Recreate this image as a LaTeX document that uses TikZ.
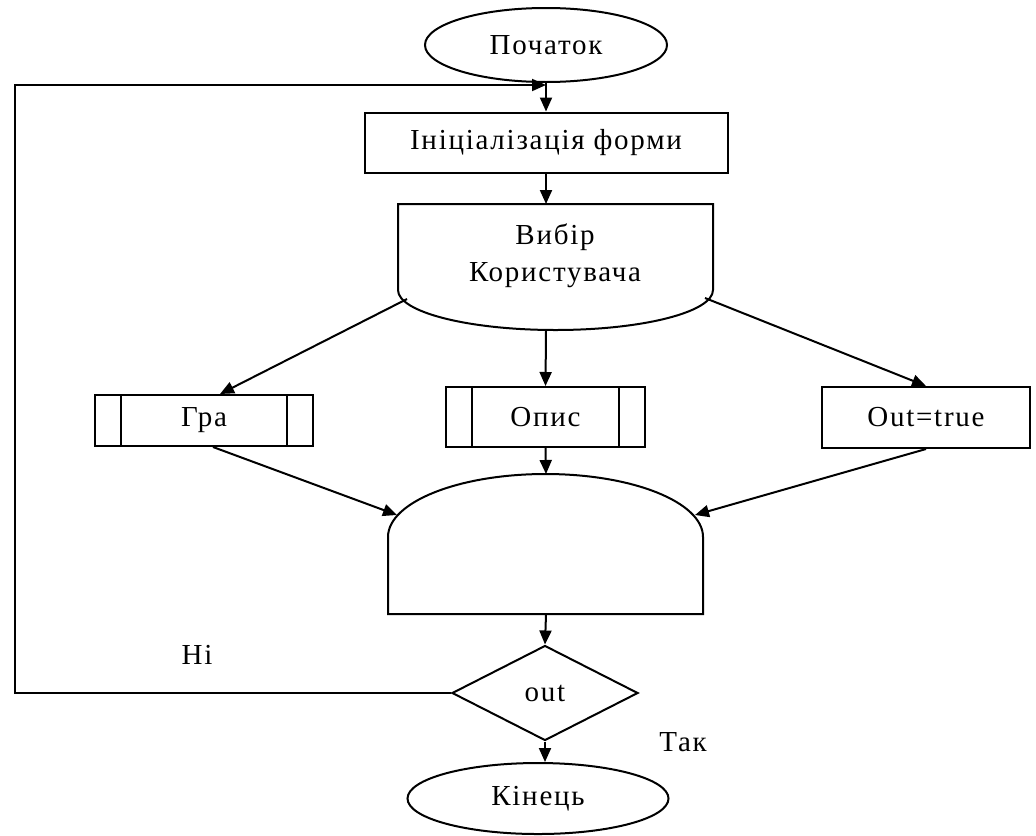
\documentclass[tikz,border=0pt]{standalone}
\usepackage{fontspec}
\setmainfont[LetterSpace=6]{Liberation Serif}
\usetikzlibrary{shapes.geometric,arrows.meta}

\tikzset{linia/.style = {line width=1pt},
         strilka/.style = {linia, -{Triangle[length=7pt,width=6pt]}},
         kraj/.style = {draw, linia, ellipse, inner sep=0pt, minimum width=#1, minimum height=37pt},
         blok/.style = {draw, linia, rectangle, inner sep=0pt, minimum width=#1, minimum height=30pt},
         pidprog/.style = {blok=#1,
                           path picture={\draw[linia]
                             ([xshift=13pt]path picture bounding box.north west) -- ([xshift=13pt]path picture bounding box.south west)
                             ([xshift=-13pt]path picture bounding box.north east) -- ([xshift=-13pt]path picture bounding box.south east);}},
         umova/.style = {draw, linia, diamond, aspect=2, inner sep=0pt, minimum width=93pt, minimum height=47.5pt},
         every node/.style = {font=\rmfamily\fontsize{14.5}{18.5}\selectfont}
        }

\begin{document}
\begin{tikzpicture}[x=0.5pt, y=-0.5pt]
  \useasboundingbox (0,0) rectangle (1036,835);

  \node[kraj=121pt] (pochatok) at (546,45) {Початок};
  \node[blok=181.5pt] (init) at (546,142.5) {Ініціалізація форми};

  \draw[linia] (398,204) -- (713,204) -- (713,290)
        arc[start angle=0, end angle=180, x radius=157.5, y radius=40] -- cycle;
  \node[align=center] (vybir) at (555,256) {Вибір\\Користувача};
  \coordinate (vybir-n) at (546,204);
  \coordinate (vybir-s) at (546,330);
  \coordinate (vybir-l) at (407,299);
  \coordinate (vybir-r) at (705,298);

  \node[pidprog=109pt, minimum height=25.5pt] (gra) at (204,420.5) {Гра};
  \node[pidprog=99.5pt] (opys) at (545.5,417) {Опис};
  \node[blok=104pt, minimum height=30.5pt] (out) at (926,417.5) {Out=true};

  \draw[linia] (388,614) -- (388,537)
        arc[start angle=180, end angle=360, x radius=157.5, y radius=63] -- (703,614) -- cycle;
  \coordinate (zbir-n) at (546,474);
  \coordinate (zbir-s) at (546,614);
  \coordinate (zbir-l) at (397,515);
  \coordinate (zbir-r) at (695,515);

  \node[umova] (perevirka) at (545,693) {out};
  \node[kraj=130.5pt, minimum height=35.5pt] (kinec) at (538,798.5) {Кінець};

  \node (ni) at (197,655) {Ні};
  \node (tak) at (683,742) {Так};

  \coordinate (petlia) at (15,85);
  \coordinate (vhid) at (546,85);

  \draw[strilka] (pochatok.south) -- (init.north);
  \draw[strilka] (init.south) -- (vybir-n);
  \draw[strilka] (vybir-l) -- ([xshift=8pt]gra.north);
  \draw[strilka] (vybir-s) -- (opys.north);
  \draw[strilka] (vybir-r) -- (out.north);
  \draw[strilka] ([xshift=4.5pt]gra.south) -- (zbir-l);
  \draw[strilka] (opys.south) -- (zbir-n);
  \draw[strilka] (out.south) -- (zbir-r);
  \draw[strilka] (zbir-s) -- (perevirka.north);
  \draw[strilka] (perevirka.south) -- (perevirka.south |- kinec.north);
  \draw[strilka] (perevirka.west) -| (petlia) -- (vhid);
\end{tikzpicture}
\end{document}
